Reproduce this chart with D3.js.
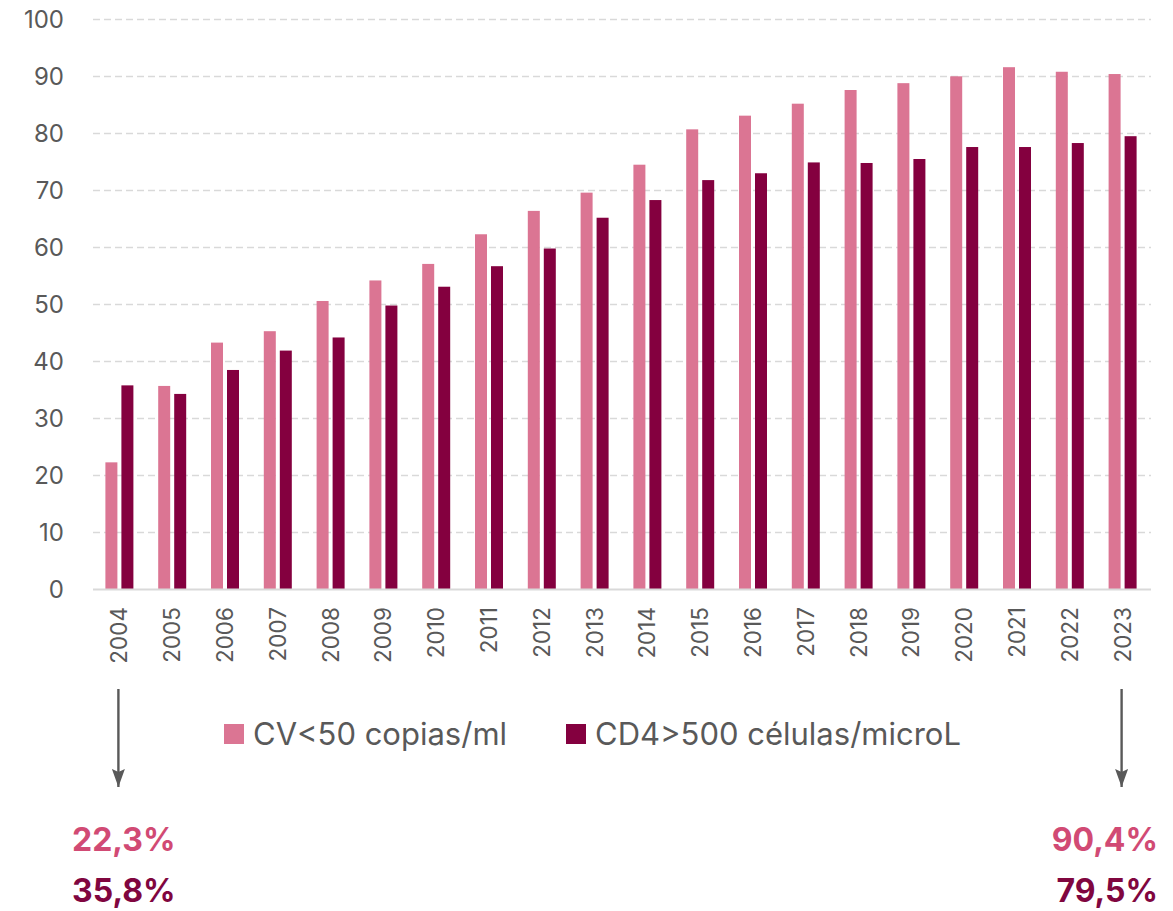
<!DOCTYPE html>
<meta charset="utf-8">
<script src="https://cdn.jsdelivr.net/npm/d3@7"></script>
<style>
body { margin: 0; background: #fff; }
svg { display: block; font-family: Inter, "Liberation Sans", sans-serif; }
.grid line { stroke: #d9d9d9; stroke-width: 1.5; stroke-dasharray: 7 4; }
.tick-label { fill: #595959; }
</style>
<body>
<div class="chart"></div>
<script>

// data
var years = d3.range(2004, 2024).map(String);
var cvValues = [22.3, 35.7, 43.3, 45.3, 50.6, 54.2, 57.1, 62.3, 66.4, 69.6,
                74.5, 80.7, 83.1, 85.2, 87.6, 88.8, 90.0, 91.6, 90.8, 90.4];
var cd4Values = [35.8, 34.3, 38.5, 41.9, 44.2, 49.8, 53.1, 56.7, 59.8, 65.2,
                 68.3, 71.8, 73.0, 74.9, 74.8, 75.5, 77.6, 77.6, 78.3, 79.5];
var seriesNames = ["CV<50 copias/ml", "CD4>500 células/microL"];
var yTicks = [0, 10, 20, 30, 40, 50, 60, 70, 80, 90, 100];

var colors = ["#db7593", "#84003f"];
var textColors = ["#d14a74", "#80063f"];

var width = 1173, height = 911;

var svg = d3.select(".chart").append("svg")
    .attr("width", width)
    .attr("height", height);

var x = d3.scaleBand()
    .domain(years)
    .range([93, 1149]);

var x1 = d3.scaleBand()
    .domain([0, 1])
    .range([-14, 14])
    .paddingInner(0.25);

var y = d3.scaleLinear()
    .domain([0, 100])
    .range([589.5, 19.3]);

// gridlines
svg.append("g")
    .attr("class", "grid")
  .selectAll("line")
  .data(yTicks.filter(function(d) { return d > 0; }))
  .enter().append("line")
    .attr("x1", 93)
    .attr("x2", 1151)
    .attr("y1", function(d) { return Math.round(y(d)) + 0.5; })
    .attr("y2", function(d) { return Math.round(y(d)) + 0.5; });

// y labels
svg.append("g")
  .selectAll("text")
  .data(yTicks)
  .enter().append("text")
    .attr("class", "tick-label")
    .attr("x", 64)
    .attr("y", function(d) { return y(d); })
    .attr("dy", "0.36em")
    .attr("text-anchor", "end")
    .style("font-size", "24px")
    .text(function(d) { return d; });

// bars
var series = [cvValues, cd4Values];
series.forEach(function(vals, s) {
  svg.append("g")
    .selectAll("rect")
    .data(vals)
    .enter().append("rect")
      .attr("x", function(d, i) { return x(years[i]) + x.bandwidth() / 2 + x1(s); })
      .attr("y", function(d) { return y(d); })
      .attr("width", x1.bandwidth())
      .attr("height", function(d) { return y(0) - y(d); })
      .attr("fill", colors[s]);
});

// baseline
svg.append("line")
    .attr("x1", 93)
    .attr("x2", 1151)
    .attr("y1", y(0))
    .attr("y2", y(0))
    .attr("stroke", "#d9d9d9")
    .attr("stroke-width", 2);

// year labels, rotated
svg.append("g")
  .selectAll("text")
  .data(years)
  .enter().append("text")
    .attr("class", "tick-label")
    .attr("transform", function(d) {
      return "translate(" + (x(d) + x.bandwidth() / 2 + 8) + ",607) rotate(-90)";
    })
    .attr("text-anchor", "end")
    .style("font-size", "22.5px")
    .text(function(d) { return d; });

// legend
var legendX = [224, 566];
var legend = svg.selectAll(".legend")
    .data(seriesNames)
    .enter().append("g")
    .attr("class", "legend")
    .attr("transform", function(d, i) { return "translate(" + legendX[i] + ",724)"; });

legend.append("rect")
    .attr("width", 20)
    .attr("height", 20)
    .attr("fill", function(d, i) { return colors[i]; });

legend.append("text")
    .attr("x", 29)
    .attr("y", 10)
    .attr("dy", "0.36em")
    .attr("fill", "#595959")
    .style("font-size", "31px")
    .text(function(d) { return d; });

// arrows pointing at first and last year
svg.append("defs").append("marker")
    .attr("id", "head")
    .attr("viewBox", "0 0 13 18")
    .attr("refX", 6.5)
    .attr("refY", 18)
    .attr("markerWidth", 13)
    .attr("markerHeight", 18)
    .attr("markerUnits", "userSpaceOnUse")
    .attr("orient", "0")
  .append("path")
    .attr("d", "M0,0L6.5,18L13,0L6.5,3z")
    .attr("fill", "#595959");

var ends = [0, years.length - 1];
svg.append("g")
  .selectAll("line")
  .data(ends)
  .enter().append("line")
    .attr("x1", function(i) { return x(years[i]) + x.bandwidth() / 2 - 1; })
    .attr("x2", function(i) { return x(years[i]) + x.bandwidth() / 2 - 1; })
    .attr("y1", 689)
    .attr("y2", 787)
    .attr("stroke", "#595959")
    .attr("stroke-width", 2.4)
    .attr("marker-end", "url(#head)");

// first / last values
var fmt = function(v) { return d3.format(".1f")(v).replace(".", ",") + "%"; };
var labelY = [851, 902];
series.forEach(function(vals, s) {
  svg.append("text")
      .attr("x", 72)
      .attr("y", labelY[s])
      .attr("fill", textColors[s])
      .style("font-size", "32px")
      .style("font-weight", "bold")
      .text(fmt(vals[0]));
  svg.append("text")
      .attr("x", 1158)
      .attr("y", labelY[s])
      .attr("text-anchor", "end")
      .attr("fill", textColors[s])
      .style("font-size", "32px")
      .style("font-weight", "bold")
      .text(fmt(vals[vals.length - 1]));
});

</script>
</body>
</html>
